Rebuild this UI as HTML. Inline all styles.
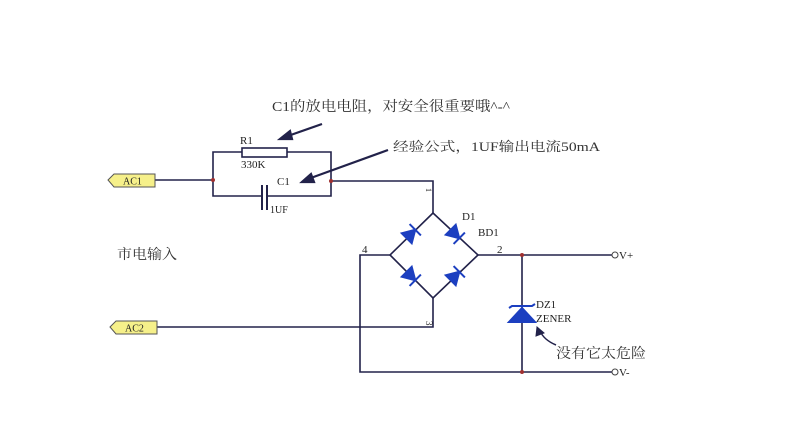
<!DOCTYPE html>
<html><head><meta charset="utf-8"><style>
html,body{margin:0;padding:0;background:#fff;}
svg{display:block}
text{font-family:"Liberation Serif","Noto Serif CJK SC",serif;fill:#222;}
.cn{font-family:"Liberation Serif","Noto Serif CJK SC",serif;fill:#333;}
</style></head><body>
<svg width="791" height="435" viewBox="0 0 791 435" xmlns="http://www.w3.org/2000/svg">
<rect width="791" height="435" fill="#fff"/>
<g stroke="#22224a" stroke-width="1.6" fill="none">
<line x1="155" y1="180" x2="213" y2="180"/>
<polyline points="213,180 213,152 242,152"/>
<polyline points="287,152 331,152 331,196 267,196"/>
<polyline points="262,196 213,196 213,180"/>
<polyline points="331,181 433,181 433,213"/>
<polyline points="433,213 478,255 433,298 390,255 433,213"/>
<polyline points="433,298 433,327 157,327"/>
<polyline points="390,255 360,255 360,372 612,372"/>
<line x1="478" y1="255" x2="612" y2="255"/>
<line x1="522" y1="255" x2="522" y2="372"/>
</g>
<rect x="242" y="148" width="45" height="9" fill="#fff" stroke="#22224a" stroke-width="1.6"/>
<line x1="262" y1="185" x2="262" y2="210" stroke="#22224a" stroke-width="2"/>
<line x1="267" y1="185" x2="267" y2="210" stroke="#22224a" stroke-width="2"/>
<g fill="#a03030"><circle cx="213" cy="180" r="2"/><circle cx="331" cy="181" r="2"/><circle cx="522" cy="255" r="2"/><circle cx="522" cy="372" r="2"/></g>
<g fill="#1c3fc0" stroke="#1c3fc0" stroke-width="2">
<g transform="translate(411,234) rotate(-45)"><polygon points="-6,-7 -6,7 6,0"/><line x1="6" y1="-8" x2="6" y2="8"/></g>
<g transform="translate(455,234) rotate(45)"><polygon points="-6,-7 -6,7 6,0"/><line x1="6" y1="-8" x2="6" y2="8"/></g>
<g transform="translate(411,276) rotate(45)"><polygon points="-6,-7 -6,7 6,0"/><line x1="6" y1="-8" x2="6" y2="8"/></g>
<g transform="translate(455,276) rotate(-45)"><polygon points="-6,-7 -6,7 6,0"/><line x1="6" y1="-8" x2="6" y2="8"/></g>
<polygon points="509,322 535,322 522,308"/>
<polyline points="509,308 512,306 532,306 535,304" fill="none" stroke-width="2"/>
</g>
<polygon points="108,180 114,174 155,174 155,187 114,187" fill="#f6f08a" stroke="#555" stroke-width="1"/>
<text x="123" y="184.5" font-size="10">AC1</text>
<polygon points="110,327 116,321 157,321 157,334 116,334" fill="#f6f08a" stroke="#555" stroke-width="1"/>
<text x="125" y="331.5" font-size="10">AC2</text>
<g stroke="#22224a" stroke-width="2.2" fill="#22224a">
<line x1="322" y1="124" x2="285" y2="137"/><polygon points="280,139 290,131 292,139"/>
<line x1="388" y1="150" x2="308" y2="179"/><polygon points="302,182 311,174 314,182"/>
<path d="M556,345 Q544,340 540,331" fill="none" stroke-width="1.5"/><polygon points="537,327 536,336 544,333" stroke-width="1"/>
</g>
<g fill="none" stroke="#444" stroke-width="1"><circle cx="615" cy="255" r="3"/><circle cx="615" cy="372" r="3"/></g>
<text class="cn" x="272" y="111" font-size="14" textLength="238" lengthAdjust="spacingAndGlyphs">C1的放电电阻，对安全很重要哦^-^</text>
<text class="cn" x="393" y="151" font-size="13" textLength="207" lengthAdjust="spacingAndGlyphs">经验公式，1UF输出电流50mA</text>
<text x="240" y="144" font-size="11">R1</text>
<text x="241" y="168" font-size="11">330K</text>
<text x="277" y="185" font-size="11">C1</text>
<text x="270" y="213" font-size="10">1UF</text>
<text class="cn" x="117" y="259" font-size="14" textLength="60" lengthAdjust="spacingAndGlyphs">市电输入</text>
<text x="462" y="220" font-size="11">D1</text>
<text x="478" y="236" font-size="11">BD1</text>
<text x="497" y="253" font-size="11">2</text>
<text x="362" y="253" font-size="11">4</text>
<text x="429" y="191" font-size="8" transform="rotate(90 429 188)">1</text>
<text x="425" y="326" font-size="9" transform="rotate(90 428 324)">3</text>
<text x="619" y="259" font-size="11">V+</text>
<text x="619" y="376" font-size="11">V-</text>
<text x="536" y="308" font-size="11">DZ1</text>
<text x="536" y="322" font-size="11">ZENER</text>
<text class="cn" x="556" y="358" font-size="14" textLength="90" lengthAdjust="spacingAndGlyphs">没有它太危险</text>
</svg>
</body></html>
